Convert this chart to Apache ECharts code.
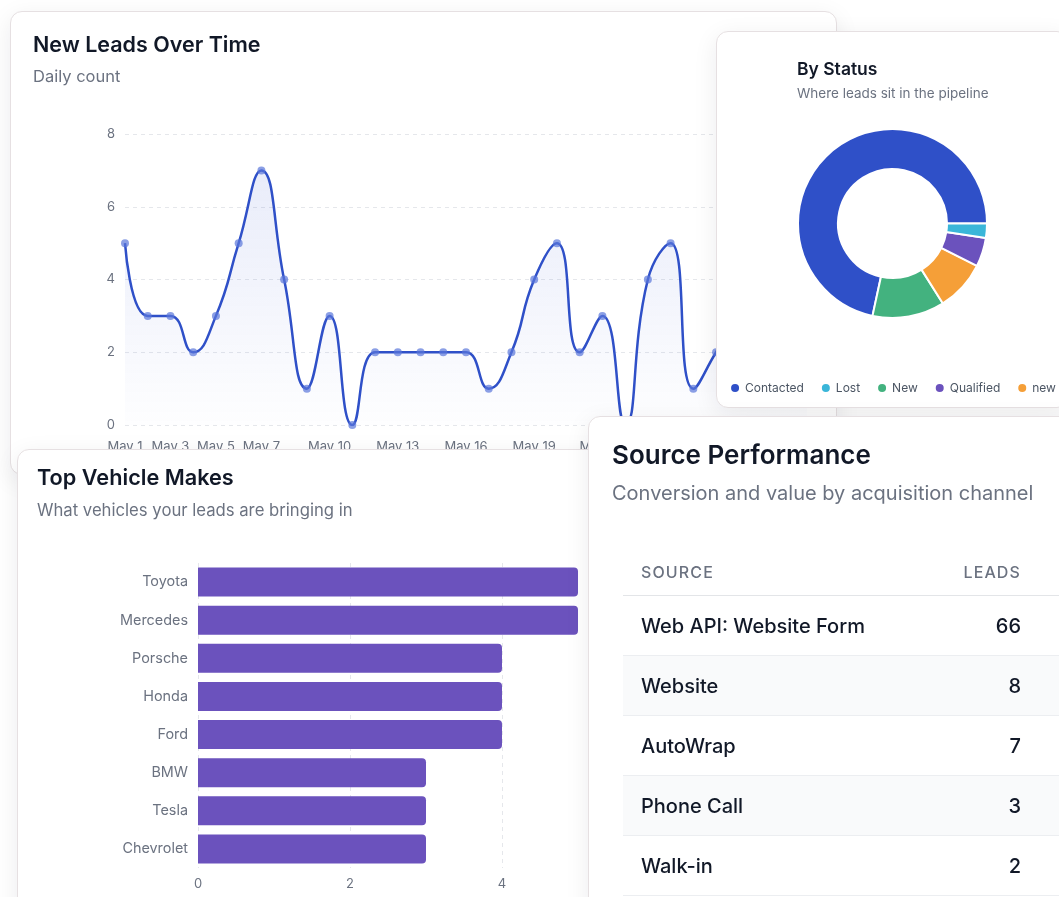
<!DOCTYPE html>
<html>
<head>
<meta charset="utf-8">
<script src="https://cdn.jsdelivr.net/npm/echarts@6.0.0/dist/echarts.min.js"></script>
<style>
  html, body { margin: 0; padding: 0; background: #ffffff; width: 1059px; height: 897px; overflow: hidden; font-family: Inter, "Noto Sans", sans-serif; }
  .card { position: absolute; background: #fff; border: 1px solid #e6e0e2; border-radius: 12px; box-shadow: 0 6px 24px rgba(20, 20, 40, 0.08); overflow: hidden; }
  .t { position: absolute; white-space: nowrap; line-height: 1; }
  .title { color: #111827; font-weight: 600; }
  .sub { color: #6b7280; font-weight: 400; }
  .chart { position: absolute; left: 0; top: 0; }
  table { position: absolute; border-collapse: collapse; table-layout: fixed; }
  td, th { padding: 0 18px; height: 59px; border-bottom: 1px solid #eceef1; white-space: nowrap; }
  th { font-weight: 500; font-size: 16px; letter-spacing: 0.07em; color: #6b7280; text-align: left; height: 47px; border-bottom: 1px solid #e3e5e8; }
  td { font-size: 20px; font-weight: 500; color: #111827; }
  .num { text-align: right; }
  tr.alt td { background: #f9fafb; }
</style>
</head>
<body>
<div class="card" id="c1" style="left:10px; top:11px; width:825px; height:462px;">
  <div class="chart" id="lineChart" style="width:825px; height:462px;"></div>
  <div class="t title" style="left:22px; top:22px; font-size:21.5px;">New Leads Over Time</div>
  <div class="t sub" style="left:22px; top:56px; font-size:16.5px;">Daily count</div>
</div>
<div class="card" id="c2" style="left:716px; top:31px; width:351px; height:375px;">
  <div class="chart" id="pieChart" style="width:351px; height:375px;"></div>
  <div class="t title" style="left:80px; top:28px; font-size:17.5px;">By Status</div>
  <div class="t sub" style="left:80px; top:55px; font-size:13.5px;">Where leads sit in the pipeline</div>
</div>
<div class="card" id="c3" style="left:17px; top:449px; width:680px; height:470px;">
  <div class="chart" id="barChart" style="width:680px; height:470px;"></div>
  <div class="t title" style="left:19px; top:17px; font-size:21.7px;">Top Vehicle Makes</div>
  <div class="t sub" style="left:19px; top:52px; font-size:16.7px;">What vehicles your leads are bringing in</div>
</div>
<div class="card" id="c4" style="left:588px; top:416px; width:520px; height:500px;">
  <div class="t title" style="left:23px; top:25px; font-size:26px;">Source Performance</div>
  <div class="t sub" style="left:23px; top:66px; font-size:20px;">Conversion and value by acquisition channel</div>
  <table id="srcTable" style="left:34px; top:131px; width:476px;"></table>
</div>
<script>
// ---- data ----
const dayLabels = ['May 1','May 2','May 3','May 4','May 5','May 6','May 7','May 8','May 9','May 10',
  'May 11','May 12','May 13','May 14','May 15','May 16','May 17','May 18','May 19','May 20',
  'May 21','May 22','May 23','May 24','May 25','May 26','May 27','May 28','May 29','May 30','May 31'];
const shownDayLabels = ['May 1','May 3','May 5','May 7','May 10','May 13','May 16','May 19','May 22','May 25','May 28','May 31'];
const dailyLeads = [5,3,3,2,3,5,7,4,1,3,0,2,2,2,2,2,1,2,4,5,2,3,0,4,5,1,2,3,2,4,3];
const leadTicks = [0,2,4,6,8];

const statusNames = ['Contacted','New','new','Qualified','Lost'];
const statusValues = [58,10,7,4,2];
const statusColors = ['#2f50c8','#43b27f','#f59f38','#6b52bd','#3ab6d9'];
const legendOrder = ['Contacted','Lost','New','Qualified','new'];

const makes = ['Toyota','Mercedes','Porsche','Honda','Ford','BMW','Tesla','Chevrolet'];
const makeCounts = [5,5,4,4,4,3,3,3];
const makeTicks = [0,2,4,6];

const sources = ['Web API: Website Form','Website','AutoWrap','Phone Call','Walk-in'];
const sourceLeads = [66,8,7,3,2];

const gray = '#6b7280';
const grid = '#e5e7eb';
const font = 'Inter, "Noto Sans", sans-serif';

// ---- line chart ----
const lc = echarts.init(document.getElementById('lineChart'), null, {renderer: 'canvas'});
lc.setOption({
  animation: false,
  grid: {left: 114, right: 29, top: 122, bottom: 49},
  xAxis: {
    type: 'category', data: dayLabels, boundaryGap: false,
    axisLine: {show: false}, axisTick: {show: false},
    axisLabel: {color: gray, fontSize: 13, fontFamily: font, margin: 16,
      interval: (i, v) => shownDayLabels.indexOf(v) >= 0}
  },
  yAxis: {
    type: 'value', min: leadTicks[0], max: leadTicks[leadTicks.length - 1], interval: 2,
    axisLine: {show: false}, axisTick: {show: false},
    axisLabel: {color: gray, fontSize: 13, fontFamily: font, margin: 10},
    splitLine: {lineStyle: {color: grid, type: [4, 4], width: 1}}
  },
  series: [{
    type: 'line', data: dailyLeads, smooth: 0.5,
    symbol: 'circle', symbolSize: 8, showSymbol: true,
    lineStyle: {color: '#2f50c8', width: 2.5},
    itemStyle: {color: 'rgba(90,118,218,0.7)', borderWidth: 0},
    areaStyle: {color: new echarts.graphic.LinearGradient(0, 0, 0, 1, [
      {offset: 0, color: 'rgba(60,90,210,0.16)'},
      {offset: 1, color: 'rgba(60,90,210,0.01)'}
    ])}
  }]
});

// ---- pie chart ----
const pc = echarts.init(document.getElementById('pieChart'));
pc.setOption({
  animation: false,
  legend: {
    data: legendOrder, top: 345, left: 'center', icon: 'circle',
    itemWidth: 10, itemHeight: 10, itemGap: 16,
    textStyle: {color: '#4b5563', fontSize: 12, fontFamily: font}
  },
  series: [{
    type: 'pie', radius: [54.5, 94.5], center: [175.5, 191.5],
    startAngle: 0, clockwise: false, label: {show: false}, labelLine: {show: false},
    itemStyle: {borderColor: '#fff', borderWidth: 2},
    data: statusNames.map((n, i) => ({name: n, value: statusValues[i], itemStyle: {color: statusColors[i]}}))
  }]
});

// ---- bar chart ----
const bc = echarts.init(document.getElementById('barChart'));
bc.setOption({
  animation: false,
  grid: {left: 180, right: 44, top: 113, bottom: 52},
  xAxis: {
    type: 'value', min: makeTicks[0], max: makeTicks[makeTicks.length - 1], interval: 2,
    axisLine: {show: false}, axisTick: {show: false},
    axisLabel: {color: gray, fontSize: 13, fontFamily: font, margin: 10},
    splitLine: {lineStyle: {color: grid, type: [4, 4], width: 1}}
  },
  yAxis: {
    type: 'category', data: makes, inverse: true,
    axisLine: {show: false}, axisTick: {show: false},
    axisLabel: {color: gray, fontSize: 14.4, fontFamily: font, margin: 10}
  },
  series: [{
    type: 'bar', data: makeCounts, barWidth: 29,
    itemStyle: {color: '#6b52bd', borderRadius: [0, 4, 4, 0]}
  }]
});

// ---- source table ----
const tbl = document.getElementById('srcTable');
let html = '<colgroup><col style="width:280px"><col style="width:136px"><col style="width:60px"></colgroup>';
html += '<tr><th>SOURCE</th><th class="num" style="text-align:right">LEADS</th><th></th></tr>';
sources.forEach((s, i) => {
  html += '<tr class="' + (i % 2 === 1 ? 'alt' : '') + '"><td>' + s + '</td><td class="num">' + sourceLeads[i] + '</td><td></td></tr>';
});
tbl.innerHTML = html;
</script>
</body>
</html>
